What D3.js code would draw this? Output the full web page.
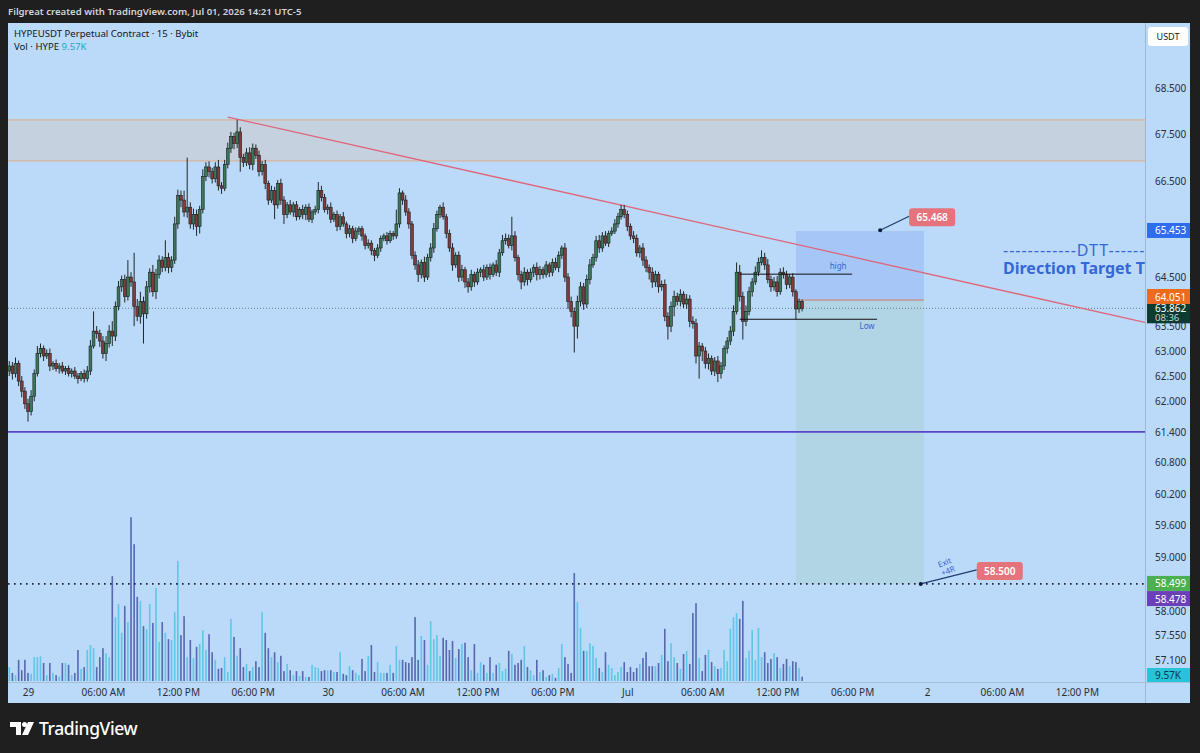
<!DOCTYPE html>
<html lang="en">
<head>
<meta charset="utf-8">
<title>HYPEUSDT Perpetual Contract 15 Bybit</title>
<script src="https://cdn.jsdelivr.net/npm/d3@7"></script>
<style>
body { margin: 0; background: #1f1f1f; }
svg text { font-family: "Noto Sans", "DejaVu Sans", sans-serif; }
.axis text { font-size: 10px; fill: #2a2e39; }
.axis path, .axis line { display: none; }
.head { font-size: 9.6px; font-weight: 600; fill: #d1d4dc; }
.legend { font-size: 9.6px; fill: #131722; }
.tag { font-size: 10px; font-weight: 600; fill: #ffffff; }
.note { font-size: 8px; fill: #3a63d0; }
</style>
</head>
<body>
<script>
// ---- data (15 min bars, first bar Jun 28 22:30) ----
var firstOpen = 62.60;
var closes = [
  62.70, 62.55, 62.75, 62.40, 62.20, 61.95, 61.80, 62.10, 62.55, 62.95,
  63.05, 62.90, 62.95, 62.70, 62.75, 62.65, 62.70, 62.60, 62.65, 62.55,
  62.60, 62.50, 62.45, 62.55, 62.45, 62.60, 63.10, 63.40, 63.35, 63.20,
  62.95, 63.15, 63.40, 63.30, 63.90, 64.30, 64.45, 64.10, 64.50, 64.40,
  63.90, 63.70, 64.00, 63.75, 64.30, 64.60, 64.20, 64.55, 64.85, 64.70,
  64.90, 64.70, 64.85, 65.60, 66.20, 66.10, 65.85, 65.95, 65.60, 65.80,
  65.55, 65.90, 66.60, 66.80, 66.70, 66.55, 66.80, 66.40, 66.35, 66.85,
  67.20, 67.45, 67.30, 67.55, 67.00, 66.90, 67.10, 66.85, 67.20, 67.05,
  66.70, 66.85, 66.45, 66.10, 66.30, 66.00, 66.45, 66.10, 65.80, 66.00,
  65.85, 66.00, 65.75, 65.90, 65.80, 65.95, 65.70, 65.85, 65.90, 66.30,
  66.15, 65.90, 65.95, 65.70, 65.80, 65.55, 65.75, 65.60, 65.40, 65.50,
  65.30, 65.45, 65.50, 65.35, 65.15, 65.20, 65.05, 64.95, 65.10, 65.30,
  65.35, 65.25, 65.40, 65.35, 65.60, 66.25, 66.10, 65.85, 65.60, 64.95,
  64.75, 64.55, 64.80, 64.50, 64.90, 65.10, 65.50, 65.80, 65.95, 65.75,
  65.40, 65.10, 64.75, 64.95, 64.50, 64.65, 64.40, 64.30, 64.55, 64.40,
  64.60, 64.65, 64.50, 64.70, 64.55, 64.75, 64.60, 65.00, 65.25, 65.30,
  65.15, 65.35, 64.90, 64.55, 64.40, 64.60, 64.45, 64.60, 64.70, 64.55,
  64.65, 64.55, 64.75, 64.60, 64.80, 64.70, 64.95, 65.10, 64.50, 64.00,
  63.80, 63.50, 64.00, 64.30, 63.95, 64.45, 64.75, 64.90, 65.25, 65.10,
  65.35, 65.20, 65.40, 65.45, 65.60, 65.75, 65.90, 65.80, 65.55, 65.35,
  65.30, 65.00, 65.10, 64.85, 64.70, 64.60, 64.40, 64.55, 64.30, 64.35,
  63.70, 63.50, 63.90, 64.10, 64.00, 64.15, 63.95, 64.05, 63.60, 63.55,
  62.90, 63.10, 63.00, 62.75, 62.85, 62.60, 62.80, 62.55, 62.70, 63.05,
  63.20, 63.40, 63.80, 64.60, 64.10, 63.60, 63.80, 64.20, 64.40, 64.60,
  64.80, 64.90, 64.75, 64.45, 64.30, 64.40, 64.20, 64.60, 64.55, 64.35,
  64.50, 64.20, 63.85, 64.00, 63.86
];
// wick length above / below the body
var wickUp = [
  .10,.08,.12,.06,.10,.08,.10,.12,.08,.15, .10,.06,.08,.10,.05,.08,.06,.08,.05,.06,
  .05,.08,.06,.05,.08,.10,.12,.40,.10,.08, .10,.15,.12,.20,.10,.12,.08,.10,.35,.10,
  .60,.15,.20,.10,.12,.08,.15,.12,.10,.08, .36,.10,.08,.15,.12,.10,.20,1.05,.10,.12,
  .10,.08,.15,.10,.12,.08,.10,.15,.08,.10, .12,.10,.08,.26,.10,.08,.10,.12,.10,.08,
  .10,.08,.10,.06,.10,.08,.07,.10,.08,.06, .10,.06,.08,.05,.10,.06,.08,.05,.08,.18,
  .10,.08,.06,.10,.05,.08,.06,.10,.05,.08, .06,.08,.05,.06,.05,.08,.06,.05,.08,.06,
  .05,.08,.06,.05,.30,.10,.05,.10,.08,.06, .08,.10,.06,.12,.08,.10,.12,.08,.05,.10,
  .06,.08,.10,.06,.08,.10,.06,.08,.10,.06, .08,.05,.10,.06,.08,.05,.10,.08,.12,.10,
  .08,.40,.10,.06,.08,.10,.06,.08,.06,.10, .08,.06,.08,.05,.08,.10,.08,.05,.10,.08,
  .10,.08,.12,.10,.08,.10,.12,.08,.10,.12, .08,.10,.06,.08,.10,.08,.10,.10,.08,.06,
  .10,.08,.06,.10,.08,.06,.10,.08,.06,.08, .10,.08,.10,.12,.08,.10,.06,.10,.08,.10,
  .10,.08,.06,.08,.10,.06,.08,.10,.08,.06, .08,.10,.12,.20,.15,.10,.12,.10,.08,.12,
  .10,.15,.10,.12,.08,.10,.12,.08,.10,.08, .06,.08,.05,.06,.04
];
var wickDn = [
  .10,.12,.08,.10,.12,.10,.20,.08,.10,.06, .08,.10,.06,.10,.08,.06,.10,.05,.08,.06,
  .08,.06,.10,.05,.08,.06,.08,.05,.10,.12, .10,.15,.08,.20,.10,.08,.10,.12,.08,.10,
  .40,.10,.15,.60,.10,.12,.10,.15,.08,.10, .08,.12,.10,.08,.10,.15,.10,.12,.10,.12,
  .20,.15,.08,.10,.12,.10,.08,.10,.12,.06, .08,.10,.12,.10,.30,.10,.08,.10,.12,.08,
  .10,.08,.12,.10,.06,.30,.08,.10,.20,.08, .06,.10,.08,.06,.10,.12,.06,.08,.06,.08,
  .08,.06,.10,.08,.06,.10,.08,.06,.10,.08, .10,.06,.08,.10,.08,.06,.10,.12,.06,.08,
  .06,.08,.05,.08,.06,.08,.10,.08,.10,.08, .10,.15,.08,.10,.06,.08,.10,.06,.08,.06,
  .10,.08,.12,.06,.10,.08,.12,.12,.08,.10, .06,.10,.08,.06,.10,.05,.08,.10,.06,.08,
  .06,.10,.08,.12,.15,.08,.12,.06,.10,.12, .10,.08,.06,.10,.08,.06,.10,.08,.10,.15,
  .12,.53,.25,.10,.12,.08,.10,.06,.08,.10, .08,.06,.08,.05,.06,.08,.06,.08,.10,.08,
  .10,.08,.10,.12,.10,.15,.12,.10,.12,.08, .10,.27,.12,.20,.08,.10,.08,.10,.12,.10,
  .15,.45,.20,.10,.12,.08,.10,.17,.10,.08, .10,.08,.10,.06,.10,.37,.10,.08,.10,.06,
  .08,.06,.10,.08,.10,.08,.10,.06,.08,.10, .08,.10,.21,.08,.06
];
// volume in thousands of HYPE
var volumes = [
  31,18,13,47,24,47,18,16,53,53, 55,40,13,40,18,13,10,40,40,36,
  13,18,69,27,31,69,80,73,31,53, 73,62,53,233,142,171,107,167,131,364,
  304,187,178,122,115,171,129,207,87,131, 107,93,91,153,267,102,144,53,91,51,
  76,82,113,69,104,64,47,27,29,53, 20,138,98,56,73,31,38,22,31,44,
  31,153,107,73,53,64,42,56,22,38, 24,13,22,11,22,9,9,36,31,29,
  22,24,24,24,20,20,64,16,13,33, 24,18,13,49,22,56,80,20,42,18,
  18,18,36,18,78,47,47,42,40,53, 142,47,100,91,36,133,93,102,56,96,
  91,69,89,51,71,82,85,53,24,82, 18,42,36,18,53,18,36,40,22,27,
  67,60,36,40,47,78,31,24,13,47, 20,24,9,13,16,7,29,82,53,38,
  18,240,176,118,67,67,84,78,51,29, 20,64,36,29,13,20,31,42,20,31,
  20,29,38,51,64,33,33,33,40,58, 116,44,84,53,40,27,60,67,38,151,
  173,51,22,58,69,42,33,27,29,69, 44,116,142,151,138,178,51,67,113,47,
  118,53,64,40,49,62,53,29,38,49, 33,44,42,29,9.57
];

var priceTicks = [68.5, 67.5, 66.5, 64.5, 63.5, 63.0, 62.5, 62.0, 61.4, 60.8, 60.2, 59.6, 59.0, 58.0, 57.55, 57.1];
var timeTickLabels = ["29", "06:00 AM", "12:00 PM", "06:00 PM", "30", "06:00 AM", "12:00 PM", "06:00 PM",
                      "Jul", "06:00 AM", "12:00 PM", "06:00 PM", "2", "06:00 AM", "12:00 PM"];

// drawings
var zoneTop = 67.81, zoneBottom = 66.93;
var supportLevel = 61.4;
var lastPrice = 63.862, countdown = "08:36";
var trendA = {t: new Date(2026, 5, 29, 16, 0), p: 67.87},
    trendB = {t: new Date(2026, 6, 1, 0, 0), p: 65.965};
var pos = {start: new Date(2026, 6, 1, 13, 30), end: new Date(2026, 6, 1, 23, 45),
           stop: 65.453, entry: 64.051, target: 58.5};
var stopNote = {t: new Date(2026, 6, 1, 20, 15), p: 65.468, text: "65.468"};
var exitNote = {t: new Date(2026, 6, 1, 23, 30), p: 58.5, text: "58.500"};
var highLine = {t0: new Date(2026, 6, 1, 9, 0), t1: new Date(2026, 6, 1, 18, 0), p: 64.56};
var lowLine = {t0: new Date(2026, 6, 1, 9, 0), t1: new Date(2026, 6, 1, 20, 0), p: 63.64};
var axisTags = [
  {p: 65.453, text: "65.453", fill: "#2f6cf0", color: "#ffffff"},
  {p: 64.051, text: "64.051", fill: "#ee6a1c", color: "#ffffff", dy: -2},
  {p: 58.499, text: "58.499", fill: "#4caf50", color: "#ffffff"},
  {p: 58.478, text: "58.478", fill: "#6a3fb8", color: "#ffffff", dy: 14}
];

// ---- layout ----
var W = 1200, H = 753;
var pane = {left: 8, top: 23, right: 1190, bottom: 703};
var plotRight = 1145, volBase = 681;

var t0 = new Date(2026, 5, 28, 22, 30);
function barTime(i) { return new Date(t0.getTime() + i * 15 * 60000); }

var x = d3.scaleTime()
    .domain([new Date(2026, 5, 29, 0, 0), new Date(2026, 6, 2, 0, 0)])
    .range([28, 927]);
var y = d3.scaleLog().domain([57.1, 68.5]).range([660, 88]);
var yVol = d3.scaleLinear().domain([0, 400]).range([volBase, volBase - 180]);

var bars = closes.map(function(c, i) {
  var o = i ? closes[i - 1] : firstOpen;
  return {t: barTime(i), o: o, c: c,
          h: Math.max(o, c) + wickUp[i], l: Math.min(o, c) - wickDn[i], v: volumes[i]};
});

var svg = d3.select("body").append("svg").attr("width", W).attr("height", H);

svg.append("rect").attr("width", W).attr("height", H).attr("fill", "#1f1f1f");
svg.append("rect")
    .attr("x", pane.left).attr("y", pane.top)
    .attr("width", pane.right - pane.left).attr("height", pane.bottom - pane.top)
    .attr("fill", "#bbd9f8");

svg.append("clipPath").attr("id", "plotclip")
  .append("rect")
    .attr("x", pane.left).attr("y", pane.top)
    .attr("width", plotRight - pane.left).attr("height", volBase - pane.top);

var plot = svg.append("g").attr("clip-path", "url(#plotclip)");

// resistance zone
plot.append("rect")
    .attr("x", pane.left).attr("width", plotRight - pane.left)
    .attr("y", y(zoneTop)).attr("height", y(zoneBottom) - y(zoneTop))
    .attr("fill", "#c5d1de");
[zoneTop, zoneBottom].forEach(function(p) {
  plot.append("line")
      .attr("x1", pane.left).attr("x2", plotRight)
      .attr("y1", y(p)).attr("y2", y(p))
      .attr("stroke", "#d9b39c").attr("stroke-width", 1.2);
});

// short position box
plot.append("rect")
    .attr("x", x(pos.start)).attr("width", x(pos.end) - x(pos.start))
    .attr("y", y(pos.stop)).attr("height", y(pos.entry) - y(pos.stop))
    .attr("fill", "#a6c6f7");
plot.append("rect")
    .attr("x", x(pos.start)).attr("width", x(pos.end) - x(pos.start))
    .attr("y", y(pos.entry)).attr("height", y(pos.target) - y(pos.entry))
    .attr("fill", "#b1d5e5");
plot.append("line")
    .attr("x1", x(pos.start)).attr("x2", x(pos.end))
    .attr("y1", y(pos.entry) + 1).attr("y2", y(pos.entry) + 1)
    .attr("stroke", "#c9746c").attr("stroke-width", 1);

// volume
plot.selectAll(".vol")
  .data(bars)
  .enter().append("rect")
    .attr("x", function(d) { return x(d.t) - 0.8; })
    .attr("width", 1.6)
    .attr("y", function(d) { return yVol(d.v); })
    .attr("height", function(d) { return volBase - yVol(d.v); })
    .attr("fill", function(d) { return d.c >= d.o ? "#5ec6e6" : "#5767b0"; });

// horizontal levels
plot.append("line")
    .attr("x1", pane.left).attr("x2", plotRight)
    .attr("y1", y(supportLevel)).attr("y2", y(supportLevel))
    .attr("stroke", "#5a45c8").attr("stroke-width", 1.6);
plot.append("line")
    .attr("x1", pane.left).attr("x2", plotRight)
    .attr("y1", y(lastPrice)).attr("y2", y(lastPrice))
    .attr("stroke", "#6f7c8c").attr("stroke-width", 1).attr("stroke-dasharray", "1,2");
plot.append("line")
    .attr("x1", pane.left).attr("x2", plotRight)
    .attr("y1", y(pos.target)).attr("y2", y(pos.target))
    .attr("stroke", "#1c2331").attr("stroke-width", 1.6).attr("stroke-dasharray", "1.6,4.4");

// trend line, extended to the right edge
var slope = (y(trendB.p) - y(trendA.p)) / (x(trendB.t) - x(trendA.t));
plot.append("line")
    .attr("x1", x(trendA.t)).attr("y1", y(trendA.p))
    .attr("x2", plotRight).attr("y2", y(trendA.p) + slope * (plotRight - x(trendA.t)))
    .attr("stroke", "#e0667a").attr("stroke-width", 1.3);

// candles
var candle = plot.selectAll(".candle")
  .data(bars)
  .enter().append("g");
candle.append("line")
    .attr("x1", function(d) { return x(d.t); })
    .attr("x2", function(d) { return x(d.t); })
    .attr("y1", function(d) { return y(d.h); })
    .attr("y2", function(d) { return y(d.l); })
    .attr("stroke", "#202826").attr("stroke-width", 1);
candle.append("rect")
    .attr("x", function(d) { return x(d.t) - 1.4; })
    .attr("width", 2.8)
    .attr("y", function(d) { return y(Math.max(d.o, d.c)); })
    .attr("height", function(d) { return Math.max(1, Math.abs(y(d.o) - y(d.c))); })
    .attr("fill", function(d) { return d.c >= d.o ? "#3b7858" : "#84393c"; })
    .attr("stroke", "#1a2222").attr("stroke-width", 0.6);

// high / low marks
[{l: highLine, text: "high", dx: -14, dy: -5}, {l: lowLine, text: "Low", dx: -10, dy: 10}].forEach(function(m) {
  plot.append("line")
      .attr("x1", x(m.l.t0)).attr("x2", x(m.l.t1))
      .attr("y1", y(m.l.p)).attr("y2", y(m.l.p))
      .attr("stroke", "#111").attr("stroke-width", 1);
  plot.append("text").attr("class", "note")
      .attr("x", x(m.l.t1) + m.dx).attr("y", y(m.l.p) + m.dy)
      .attr("text-anchor", "middle")
      .text(m.text);
});

// price notes with connectors
function priceNote(n, bx, by, bw) {
  var px = x(n.t), py = y(n.p);
  plot.append("line")
      .attr("x1", px).attr("y1", py).attr("x2", px + bx).attr("y2", py + by + 8)
      .attr("stroke", "#1d3c6e").attr("stroke-width", 1.2);
  plot.append("circle").attr("cx", px).attr("cy", py).attr("r", 2).attr("fill", "#0d1b3a");
  plot.append("rect")
      .attr("x", px + bx).attr("y", py + by).attr("width", bw).attr("height", 18)
      .attr("rx", 3).attr("fill", "#e5737c");
  plot.append("text").attr("class", "tag")
      .attr("x", px + bx + bw / 2).attr("y", py + by + 13)
      .attr("text-anchor", "middle")
      .text(n.text);
}
priceNote(stopNote, 29, -22, 46);
priceNote(exitNote, 56, -22, 46);

var ex = x(exitNote.t) + 26, ey = y(exitNote.p) - 16;
var exitText = plot.append("text").attr("class", "note")
    .attr("transform", "translate(" + ex + "," + ey + ") rotate(-22)")
    .attr("text-anchor", "middle");
exitText.append("tspan").attr("x", 0).attr("dy", -3).text("Exit");
exitText.append("tspan").attr("x", 0).attr("dy", 9).text("+4R");

// DTT note (runs under the price scale)
plot.append("text")
    .attr("x", 1003).attr("y", 256)
    .attr("font-size", "16px").attr("fill", "#3468d6").attr("letter-spacing", "1")
    .text("------------DTT--------");
plot.append("text")
    .attr("x", 1003).attr("y", 274)
    .attr("font-size", "16px").attr("font-weight", "bold").attr("fill", "#3468d6")
    .text("Direction Target Time");

// ---- price scale ----
svg.append("line")
    .attr("x1", plotRight + 0.5).attr("x2", plotRight + 0.5)
    .attr("y1", pane.top).attr("y2", pane.bottom)
    .attr("stroke", "#9fb7cf").attr("stroke-width", 1);
svg.append("line")
    .attr("x1", pane.left).attr("x2", pane.right)
    .attr("y1", volBase + 1.5).attr("y2", volBase + 1.5)
    .attr("stroke", "#a6bfd8").attr("stroke-width", 1);

svg.append("g")
    .attr("class", "axis")
    .attr("transform", "translate(" + (plotRight + 2) + ",0)")
    .call(d3.axisRight(y).tickValues(priceTicks).tickFormat(d3.format(".3f")).tickSize(0).tickPadding(8));

// last price with bar countdown (drawn over the 63.500 tick, as in the app)
var ly = y(lastPrice);
svg.append("rect")
    .attr("x", plotRight + 2).attr("y", ly - 7).attr("width", 43).attr("height", 22)
    .attr("fill", "#0e3b31");
svg.append("text").attr("x", plotRight + 10).attr("y", ly + 3.5)
    .attr("font-size", "10px").attr("fill", "#ffffff").text(d3.format(".3f")(lastPrice));
svg.append("text").attr("x", plotRight + 10).attr("y", ly + 13)
    .attr("font-size", "9.5px").attr("fill", "#c8d6d0").text(countdown);

axisTags.forEach(function(t) {
  var ty = y(t.p) + (t.dy || 0);
  svg.append("rect")
      .attr("x", plotRight + 2).attr("y", ty - 8).attr("width", 43).attr("height", 15)
      .attr("fill", t.fill);
  svg.append("text")
      .attr("x", plotRight + 10).attr("y", ty + 3.5)
      .attr("font-size", "10px").attr("fill", t.color)
      .text(t.text);
});

// current volume
var lastVol = volumes[volumes.length - 1];
svg.append("rect")
    .attr("x", plotRight + 2).attr("y", 668).attr("width", 43).attr("height", 14)
    .attr("fill", "#27c3d9");
svg.append("text").attr("x", plotRight + 10).attr("y", 679)
    .attr("font-size", "10px").attr("fill", "#0f3350").text(lastVol + "K");

// currency box
svg.append("rect")
    .attr("x", plotRight + 3).attr("y", 27).attr("width", 40).attr("height", 19)
    .attr("rx", 3).attr("fill", "#ffffff");
svg.append("text")
    .attr("x", plotRight + 23).attr("y", 40).attr("text-anchor", "middle")
    .attr("font-size", "9px").attr("fill", "#131722").text("USDT");

// ---- time scale ----
var timeTicks = timeTickLabels.map(function(d, i) { return new Date(2026, 5, 29, i * 6, 0); });
svg.append("g")
    .attr("class", "axis")
    .attr("transform", "translate(0," + (volBase + 1) + ")")
    .call(d3.axisBottom(x).tickValues(timeTicks)
      .tickFormat(function(d, i) { return timeTickLabels[i]; })
      .tickSize(0).tickPadding(7));

// ---- legends ----
svg.append("text").attr("class", "head").attr("x", 8).attr("y", 15)
    .text("Filgreat created with TradingView.com, Jul 01, 2026 14:21 UTC-5");
svg.append("text").attr("class", "legend").attr("x", 14).attr("y", 37)
    .text("HYPEUSDT Perpetual Contract \u00b7 15 \u00b7 Bybit");
var volLegend = svg.append("text").attr("class", "legend").attr("x", 14).attr("y", 50);
volLegend.append("tspan").text("Vol \u00b7 HYPE ");
volLegend.append("tspan").attr("fill", "#22a9c9").text(" " + lastVol + "K");

// ---- TradingView logo ----
var logo = svg.append("g").attr("fill", "#ffffff");
logo.append("path").attr("d", "M10,722 H21 V735 H16 V727 H10 Z");
logo.append("circle").attr("cx", 24.5).attr("cy", 724.5).attr("r", 2.5);
logo.append("path").attr("d", "M28,722 H34 L28,735 H22 Z");
logo.append("text")
    .attr("x", 39).attr("y", 735)
    .attr("font-size", "17.5px").attr("font-weight", "500").attr("fill", "#ffffff")
    .attr("letter-spacing", "-0.4")
    .text("TradingView");
</script>
</body>
</html>
